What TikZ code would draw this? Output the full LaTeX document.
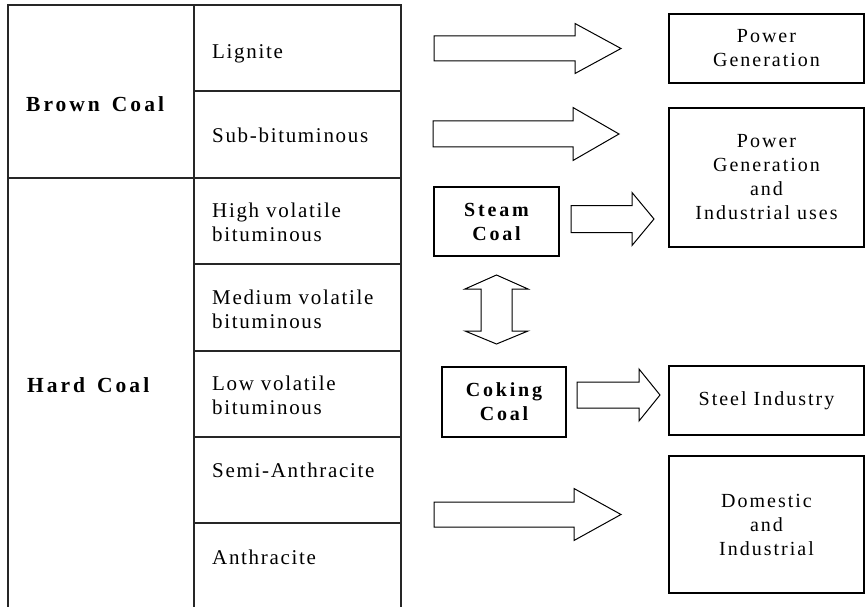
\documentclass[tikz,border=0pt]{standalone}
\usepackage{fontspec}
\setmainfont{Liberation Serif}[LetterSpace=10,BoldFeatures={LetterSpace=14}]
\newfontfamily\gradefont{Liberation Serif}[LetterSpace=8]
\newcommand\rankfont{\fontsize{21.5}{24}\selectfont\bfseries\spaceskip 12pt\relax}
\usepackage{tikz}

\tikzset{
 tableline/.style={draw=black!85, line width=1.5pt},
 grade/.style={anchor=west, align=left, inner sep=0pt, font=\fontsize{21}{24}\gradefont},
 rank/.style={anchor=west, inner sep=0pt, font=\rankfont},
 usebox/.style={draw, line width=1.2pt, align=center, inner sep=0pt, font=\fontsize{20}{24}\selectfont},
 coalbox/.style={usebox, font=\fontsize{20}{24}\selectfont\bfseries},
 blockarrow/.style={draw, line width=1pt, fill=white, line join=miter},
}

\begin{document}
\begin{tikzpicture}[x=1pt,y=-1pt]
 \path[use as bounding box] (0,0) rectangle (865,607);

\draw[tableline] (8,607) -- (8,5) -- (401,5) -- (401,607);
\draw[tableline] (194,5) -- (194,607);
\draw[tableline] (8,178) -- (401,178);
\foreach \y in {91,264,351,437,523}
	\draw[tableline] (194,\y) -- (401,\y);

\node[rank] (brown) at (26,104) {Brown Coal};
\node[rank] (hard) at (27,385) {Hard Coal};

\node[grade] (lignite) at (212,54) {Lignite};
\node[grade] (subbit) at (212,135) {Sub-bituminous};
\node[grade] (highvol) at (212,222) {High volatile\\bituminous};
\node[grade] (medvol) at (212,309) {Medium volatile\\bituminous};
\node[grade] (lowvol) at (212,395) {Low volatile\\bituminous};
\node[grade] (semianth) at (212,470) {Semi-Anthracite};
\node[grade] (anth) at (212,557) {Anthracite};

\node[coalbox, minimum width=125pt, minimum height=69pt] (steam) at (496.5,221.5) {Steam\\Coal};
\node[coalbox, minimum width=124pt, minimum height=70pt] (coking) at (504,402) {Coking\\Coal};

\node[usebox, minimum width=195pt, minimum height=69pt] (power) at (766.5,48.5) {Power\\Generation};
\node[usebox, minimum width=195pt, minimum height=139pt] (powerind) at (766.5,177.5) {Power\\Generation\\and\\Industrial uses};
\node[usebox, minimum width=195pt, minimum height=69pt] (steel) at (766.5,400.5) {Steel Industry};
\node[usebox, minimum width=195pt, minimum height=137pt] (domestic) at (766.5,524.5) {Domestic\\and\\Industrial};

\foreach \xa/\xb/\xc/\yc/\s/\h in {434/575/621/48.5/12.5/25, 433/573/619/134/13/26.5, 571/632/654/219/13.5/26.5, 577/639/660/395/13/26, 434/574/621/514.5/12.5/26}
	\draw[blockarrow] (\xa,\yc-\s) -- (\xb,\yc-\s) -- (\xb,\yc-\h) -- (\xc,\yc) -- (\xb,\yc+\h) -- (\xb,\yc+\s) -- (\xa,\yc+\s) -- cycle;

\draw[blockarrow] (496.5,275) -- (528,289) -- (512,289) -- (512,331) -- (528,331) -- (496.5,344) -- (465,331) -- (481,331) -- (481,289) -- (465,289) -- cycle;

\end{tikzpicture}
\end{document}
